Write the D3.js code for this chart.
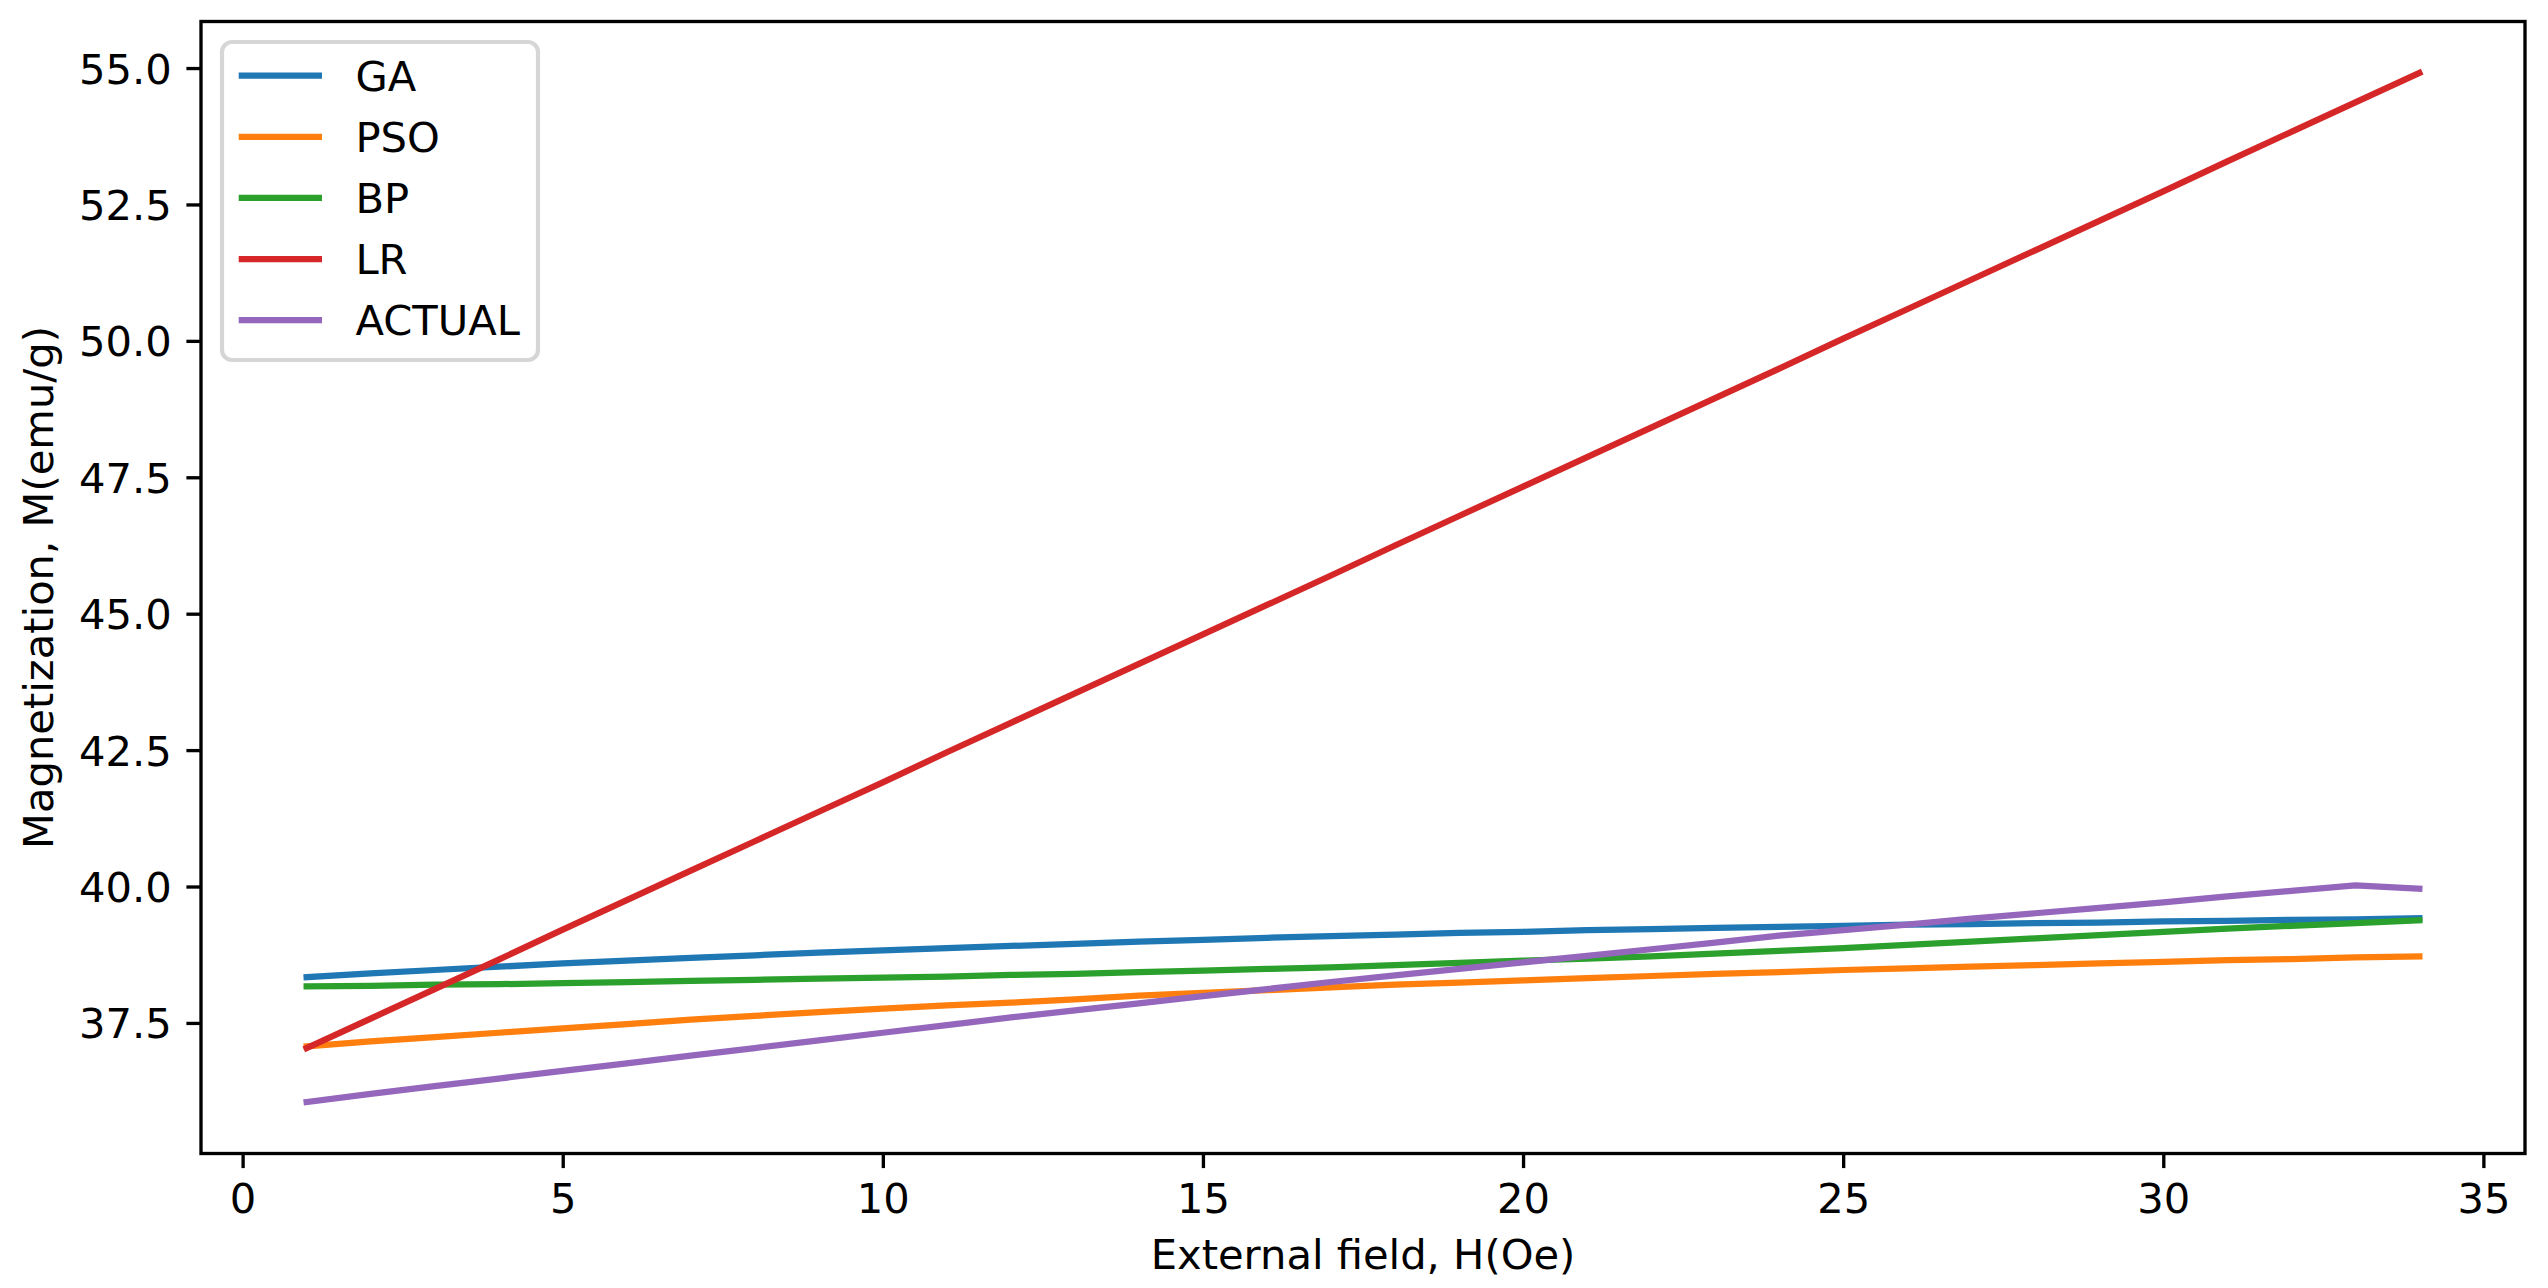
<!DOCTYPE html>
<html>
<head>
<meta charset="utf-8">
<script src="https://cdn.jsdelivr.net/npm/d3@7"></script>
<style>
  html, body { margin: 0; padding: 0; background: #ffffff; }
  svg { display: block; }
  text { font-family: "DejaVu Sans", sans-serif; fill: #000; }
</style>
</head>
<body>
<svg id="chart" width="2548" height="1288"></svg>
<script>
// ---- Data ----
const fieldH = [1,2,3,4,5,6,7,8,9,10,11,12,13,14,15,16,17,18,19,20,21,22,23,24,25,26,27,28,29,30,31,32,33,34];

const seriesNames = ["GA", "PSO", "BP", "LR", "ACTUAL"];

const gaValues = [38.34,38.41,38.47,38.53,38.59,38.64,38.69,38.74,38.79,38.83,38.87,38.91,38.95,38.99,39.02,39.06,39.09,39.12,39.15,39.17,39.20,39.22,39.24,39.26,39.28,39.30,39.31,39.33,39.34,39.36,39.37,39.39,39.40,39.42];

const psoValues = [37.07,37.16,37.24,37.32,37.40,37.48,37.56,37.63,37.70,37.76,37.82,37.87,37.93,38.00,38.05,38.10,38.15,38.20,38.24,38.28,38.32,38.36,38.40,38.43,38.47,38.50,38.53,38.56,38.59,38.62,38.65,38.67,38.70,38.72];

const bpValues = [38.17,38.18,38.20,38.21,38.23,38.25,38.27,38.29,38.31,38.33,38.35,38.38,38.40,38.43,38.46,38.49,38.52,38.56,38.60,38.64,38.68,38.72,38.77,38.82,38.87,38.93,38.99,39.05,39.11,39.17,39.23,39.28,39.33,39.38];

const lrValues = [37.04,37.58,38.12,38.66,39.21,39.75,40.29,40.83,41.37,41.91,42.46,43.00,43.54,44.08,44.62,45.16,45.70,46.25,46.79,47.33,47.87,48.41,48.95,49.49,50.04,50.58,51.12,51.66,52.20,52.74,53.29,53.83,54.37,54.91];

const actualValues = [36.05,36.20,36.34,36.48,36.62,36.76,36.90,37.04,37.18,37.32,37.46,37.60,37.73,37.86,37.99,38.12,38.25,38.37,38.49,38.61,38.73,38.85,38.97,39.10,39.20,39.30,39.41,39.51,39.61,39.71,39.82,39.92,40.02,39.96];

const xTicks = [0, 5, 10, 15, 20, 25, 30, 35];
const yTicks = [37.5, 40.0, 42.5, 45.0, 47.5, 50.0, 52.5, 55.0];

const xLabel = "External field, H(Oe)";
const yLabel = "Magnetization, M(emu/g)";

const colors = ["#1f77b4", "#ff7f0e", "#2ca02c", "#d62728", "#9467bd"];

// ---- Layout ----
const plot = { left: 201, right: 2525, top: 21.5, bottom: 1153.5 };
const fs = 41.67;           // 10pt at 300 dpi
const tickLen = 14.6;
const tickPad = 14.6;
const spineW = 3.33;
const lineW = 6.25;

const allSeries = [gaValues, psoValues, bpValues, lrValues, actualValues];

const xExt = d3.extent(fieldH);
const xPad = (xExt[1] - xExt[0]) * 0.05;
const x = d3.scaleLinear()
  .domain([xExt[0] - xPad, xExt[1] + xPad])
  .range([plot.left, plot.right]);

const yMin = d3.min(allSeries, s => d3.min(s));
const yMax = d3.max(allSeries, s => d3.max(s));
const yPad = (yMax - yMin) * 0.05;
const y = d3.scaleLinear()
  .domain([yMin - yPad, yMax + yPad])
  .range([plot.bottom, plot.top]);

const svg = d3.select("#chart");

// ---- Lines ----
const line = d3.line()
  .x((d, i) => x(fieldH[i]))
  .y(d => y(d));

const linesG = svg.append("g");
allSeries.forEach((s, k) => {
  linesG.append("path")
    .datum(s)
    .attr("d", line)
    .attr("fill", "none")
    .attr("stroke", colors[k])
    .attr("stroke-width", lineW)
    .attr("stroke-linejoin", "round")
    .attr("stroke-linecap", "square");
});

// ---- Axes ----
const xAxis = d3.axisBottom(x)
  .tickValues(xTicks)
  .tickFormat(d3.format("d"))
  .tickSizeInner(tickLen)
  .tickSizeOuter(0)
  .tickPadding(tickPad);

const yAxis = d3.axisLeft(y)
  .tickValues(yTicks)
  .tickFormat(d3.format(".1f"))
  .tickSizeInner(tickLen)
  .tickSizeOuter(0)
  .tickPadding(tickPad);

const gx = svg.append("g")
  .attr("transform", `translate(0,${plot.bottom})`)
  .call(xAxis);
const gy = svg.append("g")
  .attr("transform", `translate(${plot.left},0)`)
  .call(yAxis);

[gx, gy].forEach(g => {
  g.select(".domain").remove();
  g.selectAll(".tick line").attr("stroke", "#000").attr("stroke-width", spineW);
  g.selectAll(".tick text")
    .attr("font-family", "DejaVu Sans")
    .attr("font-size", fs)
    .attr("fill", "#000");
});
gx.selectAll(".tick text").attr("y", tickLen + tickPad).attr("dy", "0.73em");
gy.selectAll(".tick text").attr("x", -(tickLen + tickPad)).attr("dy", "0.36em");

// ---- Spines (frame) ----
svg.append("rect")
  .attr("x", plot.left)
  .attr("y", plot.top)
  .attr("width", plot.right - plot.left)
  .attr("height", plot.bottom - plot.top)
  .attr("fill", "none")
  .attr("stroke", "#000")
  .attr("stroke-width", spineW)
  .attr("stroke-linecap", "square");

// ---- Axis labels ----
svg.append("text")
  .attr("x", (plot.left + plot.right) / 2)
  .attr("y", 1269)
  .attr("text-anchor", "middle")
  .attr("font-size", fs)
  .text(xLabel);

svg.append("text")
  .attr("transform", `translate(53,${(plot.top + plot.bottom) / 2}) rotate(-90)`)
  .attr("text-anchor", "middle")
  .attr("font-size", fs)
  .text(yLabel);

// ---- Legend ----
const lg = svg.append("g");
lg.append("rect")
  .attr("x", 222)
  .attr("y", 42)
  .attr("width", 316)
  .attr("height", 318)
  .attr("rx", 10)
  .attr("ry", 10)
  .attr("fill", "#ffffff")
  .attr("fill-opacity", 0.8)
  .attr("stroke", "#cccccc")
  .attr("stroke-opacity", 0.8)
  .attr("stroke-width", 4.17);

seriesNames.forEach((name, k) => {
  const cy = 75.7 + k * 61.1;
  lg.append("line")
    .attr("x1", 238.7).attr("x2", 322)
    .attr("y1", cy).attr("y2", cy)
    .attr("stroke", colors[k])
    .attr("stroke-width", lineW)
    .attr("stroke-linecap", "butt");
  lg.append("text")
    .attr("x", 355.4)
    .attr("y", cy)
    .attr("dy", "0.36em")
    .attr("font-size", fs)
    .text(name);
});
</script>
</body>
</html>
